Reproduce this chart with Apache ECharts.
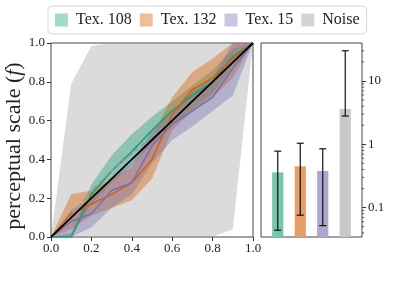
<!DOCTYPE html>
<html><head><meta charset="utf-8">
<script src="https://cdn.jsdelivr.net/npm/echarts@6/dist/echarts.min.js"></script>
<style>html,body{margin:0;padding:0;background:#fff}#c{width:407px;height:285px}</style>
</head><body><div id="c"></div>
<script>
// ---- data ----
const xs = [0, 0.1, 0.2, 0.3, 0.4, 0.5, 0.6, 0.7, 0.8, 0.9, 1.0];
const names = ['Tex. 108', 'Tex. 132', 'Tex. 15', 'Noise'];

const tex108Mean = [0, 0.00, 0.22, 0.34, 0.44, 0.55, 0.65, 0.73, 0.80, 0.93, 1];
const tex108Low  = [0, 0.00, 0.17, 0.28, 0.37, 0.48, 0.58, 0.66, 0.74, 0.88, 1];
const tex108High = [0, 0.02, 0.27, 0.42, 0.53, 0.62, 0.70, 0.78, 0.86, 0.97, 1];

const tex132Mean = [0, 0.12, 0.17, 0.22, 0.28, 0.40, 0.63, 0.76, 0.82, 0.92, 1];
const tex132Low  = [0, 0.04, 0.11, 0.15, 0.19, 0.30, 0.55, 0.65, 0.72, 0.82, 1];
const tex132High = [0, 0.22, 0.24, 0.30, 0.36, 0.52, 0.72, 0.85, 0.92, 1.00, 1];

const tex15Mean = [0, 0.08, 0.12, 0.24, 0.28, 0.47, 0.58, 0.65, 0.72, 0.87, 1];
const tex15Low  = [0, 0.00, 0.05, 0.15, 0.22, 0.38, 0.50, 0.57, 0.65, 0.73, 1];
const tex15High = [0, 0.14, 0.20, 0.30, 0.38, 0.55, 0.64, 0.75, 0.82, 1.00, 1];

const noiseMean = [0, 0.11, 0.24, 0.34, 0.43, 0.52, 0.60, 0.70, 0.80, 0.90, 1];
const noiseLow  = [0, 0, 0, 0, 0, 0, 0, 0, 0, 0.04, 1];
const noiseHigh = [0, 0.79, 0.985, 1, 1, 1, 1, 1, 1, 1, 1];

const diagonal = [0, 0.1, 0.2, 0.3, 0.4, 0.5, 0.6, 0.7, 0.8, 0.9, 1.0];

// right panel (log scale)
const barPos = [0, 1, 2, 3];
const barValues = [0.36, 0.45, 0.38, 3.6];
const errLow  = [0.044, 0.076, 0.052, 2.8];
const errHigh = [0.78, 1.04, 0.85, 30];
const logMajorTicks = [0.1, 1, 10];
const logMinorTicks = [0.04, 0.05, 0.06, 0.07, 0.08, 0.09, 0.2, 0.3, 0.4, 0.5, 0.6, 0.7, 0.8, 0.9, 2, 3, 4, 5, 6, 7, 8, 9, 20, 30];
const logMin = 0.0344, logMax = 39.8;

// ---- styles ----
const lineColors = ['#1b9e77', '#d95f02', '#7570b3'];
const bandColors = ['rgba(27,158,119,0.4)', 'rgba(217,95,2,0.4)', 'rgba(117,112,179,0.4)', 'rgba(160,160,160,0.38)'];
const legendColors = ['#a4d8c9', '#f0bf9a', '#c8c6e1', '#d4d4d4'];
const barColors = ['#76c5ad', '#e89f67', '#aca9d1', '#c8c8c8'];
const SERIF = '"Liberation Serif", "DejaVu Serif", serif';

function pairs(arr) { return xs.map((x, i) => [x, arr[i]]); }

const series = [];
// bands drawn as polygons through the axis scales
function addBand(lo, hi, name, color) {
  series.push({
    name: name, type: 'custom', xAxisIndex: 0, yAxisIndex: 0, z: 1, silent: true,
    itemStyle: { color: color },
    data: xs.map((x, i) => [x, lo[i], hi[i]]),
    renderItem: function (params, api) {
      if (params.dataIndex !== 0) return null;
      const top = xs.map((x, i) => api.coord([x, hi[i]]));
      const bot = xs.map((x, i) => api.coord([x, lo[i]])).reverse();
      return { type: 'polygon', shape: { points: top.concat(bot) }, style: { fill: color } };
    }
  });
}
addBand(noiseLow, noiseHigh, 'Noise', bandColors[3]);
addBand(tex108Low, tex108High, names[0], bandColors[0]);
addBand(tex132Low, tex132High, names[1], bandColors[1]);
addBand(tex15Low, tex15High, names[2], bandColors[2]);

[tex108Mean, tex132Mean, tex15Mean].forEach((m, k) => {
  series.push({
    type: 'line', xAxisIndex: 0, yAxisIndex: 0, data: pairs(m), symbol: 'none',
    lineStyle: { color: lineColors[k], width: 1.5 }, z: 3
  });
});
series.push({
  type: 'line', xAxisIndex: 0, yAxisIndex: 0, data: pairs(noiseMean), symbol: 'none',
  lineStyle: { color: '#9a9a9a', width: 1.5, type: [5, 3] }, z: 3
});
series.push({
  type: 'line', xAxisIndex: 0, yAxisIndex: 0, data: pairs(diagonal), symbol: 'none',
  lineStyle: { color: '#000', width: 1.8 }, z: 4
});

// bars (custom, so they start from the bottom of the log axis)
series.push({
  type: 'custom', xAxisIndex: 1, yAxisIndex: 1, z: 2,
  data: barPos.map((p, i) => [p, barValues[i]]),
  renderItem: function (params, api) {
    const x = api.value(0), v = api.value(1);
    const a = api.coord([x - 0.25, v]);
    const b = api.coord([x + 0.25, v]);
    const cs = params.coordSys;
    const bottom = cs.y + cs.height;
    return { type: 'rect', shape: { x: a[0], y: a[1], width: b[0] - a[0], height: bottom - a[1] },
      style: { fill: barColors[params.dataIndex] } };
  }
});
// error bars
series.push({
  type: 'custom', xAxisIndex: 1, yAxisIndex: 1, z: 3,
  data: barPos.map((p, i) => [p, errLow[i], errHigh[i]]),
  renderItem: function (params, api) {
    const x = api.value(0);
    const lo = api.coord([x, api.value(1)]);
    const hi = api.coord([x, api.value(2)]);
    const st = { stroke: '#111', lineWidth: 1.2 };
    const c = 3.5;
    return { type: 'group', children: [
      { type: 'line', shape: { x1: lo[0], y1: lo[1], x2: hi[0], y2: hi[1] }, style: st },
      { type: 'line', shape: { x1: lo[0] - c, y1: lo[1], x2: lo[0] + c, y2: lo[1] }, style: st },
      { type: 'line', shape: { x1: hi[0] - c, y1: hi[1], x2: hi[0] + c, y2: hi[1] }, style: st }
    ] };
  }
});
// minor log ticks on the right edge
series.push({
  type: 'custom', xAxisIndex: 1, yAxisIndex: 1, z: 5, silent: true, clip: false,
  data: logMinorTicks.map(v => [0, v]),
  renderItem: function (params, api) {
    const cs = params.coordSys;
    const p = api.coord([0, api.value(1)]);
    const xr = cs.x + cs.width;
    return { type: 'line', shape: { x1: xr, y1: p[1], x2: xr + 2.2, y2: p[1] }, style: { stroke: '#333', lineWidth: 0.8 } };
  }
});

const labelStyle = { fontFamily: SERIF, fontSize: 13, color: '#222' };

const option = {
  animation: false,
  backgroundColor: '#fff',
  legend: {
    data: names.map((n, i) => ({ name: n, itemStyle: { color: legendColors[i], opacity: 1 } })),
    left: 48, top: 6, itemWidth: 13, itemHeight: 13, itemGap: 8,
    icon: 'rect', padding: [6, 7, 6, 7],
    borderColor: '#d8d8d8', borderWidth: 1, borderRadius: 4, backgroundColor: '#fff',
    textStyle: { fontFamily: SERIF, fontSize: 16, color: '#222', padding: [0, 0, 0, 3] },
    selectedMode: false
  },
  grid: [
    { left: 51, top: 43, width: 202, height: 194, show: true, borderColor: '#444', borderWidth: 1, backgroundColor: 'transparent' },
    { left: 261, top: 43, width: 101, height: 194, show: true, borderColor: '#444', borderWidth: 1, backgroundColor: 'transparent' }
  ],
  xAxis: [
    { type: 'value', gridIndex: 0, min: 0, max: 1, interval: 0.2,
      axisLine: { show: false, onZero: false }, splitLine: { show: false },
      axisTick: { show: true, length: 4, lineStyle: { color: '#333' } },
      axisLabel: Object.assign({ margin: 5, formatter: v => v.toFixed(1) }, labelStyle) },
    { type: 'value', gridIndex: 1, min: -0.745, max: 3.745,
      axisLine: { show: false, onZero: false }, splitLine: { show: false }, axisTick: { show: false }, axisLabel: { show: false } }
  ],
  yAxis: [
    { type: 'value', gridIndex: 0, min: 0, max: 1, interval: 0.2,
      axisLine: { show: false, onZero: false }, splitLine: { show: false },
      axisTick: { show: true, length: 4, lineStyle: { color: '#333' } },
      axisLabel: Object.assign({ margin: 6, formatter: v => v.toFixed(1) }, labelStyle),
      name: 'perceptual scale ({i|f})', nameLocation: 'middle', nameGap: 26,
      nameTextStyle: { fontFamily: SERIF, fontSize: 22, color: '#222', padding: [0, 12, 0, 0],
        rich: { i: { fontFamily: SERIF, fontSize: 22, fontStyle: 'italic', color: '#222' } } } },
    { type: 'log', gridIndex: 1, position: 'right', min: logMin, max: logMax, logBase: 10,
      axisLine: { show: false, onZero: false }, splitLine: { show: false },
      axisTick: { show: true, length: 4, lineStyle: { color: '#333' }, customValues: logMajorTicks },
      axisLabel: Object.assign({ margin: 6, customValues: logMajorTicks, formatter: v => String(+v.toPrecision(3)) }, labelStyle) }
  ],
  series: series
};
const chart = echarts.init(document.getElementById('c'), null, { renderer: 'canvas' });
chart.setOption(option);
</script></body></html>
